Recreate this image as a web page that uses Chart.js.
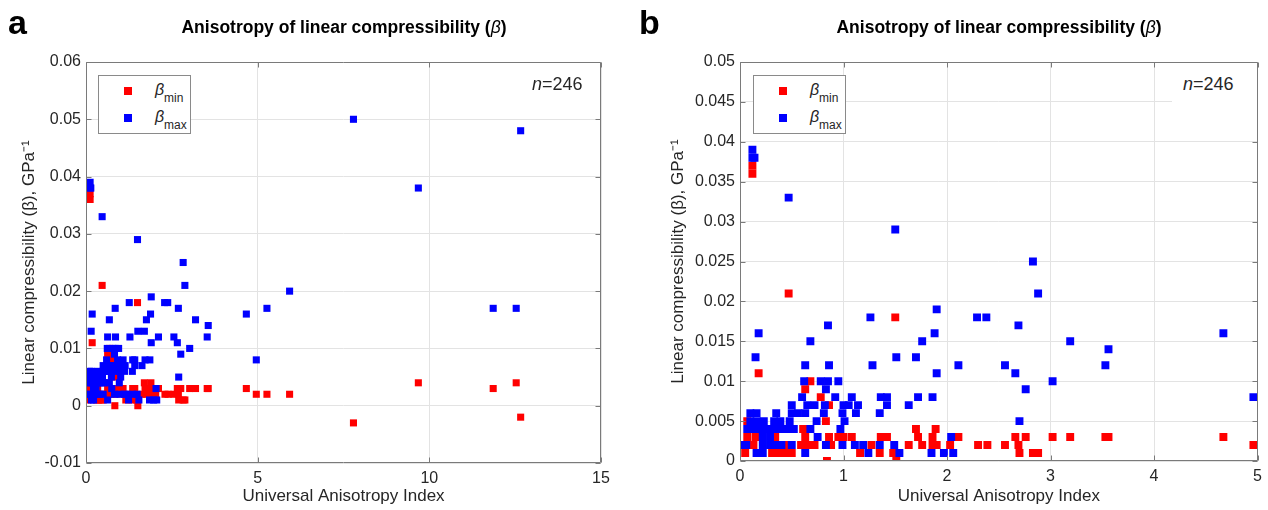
<!DOCTYPE html>
<html><head><meta charset="utf-8">
<script src="https://cdn.jsdelivr.net/npm/chart.js@4.4.0/dist/chart.umd.min.js"></script>
<style>
body{margin:0;background:#fff;}
#wrap{position:relative;width:1268px;height:510px;overflow:hidden;font-family:"Liberation Sans",Arial,Helvetica,sans-serif;color:#000;}
.pane{position:absolute;top:0;width:634px;height:510px;}
.letter{position:absolute;font-weight:bold;font-size:34px;line-height:1;}
.title{position:absolute;font-weight:bold;font-size:17.5px;line-height:1;white-space:nowrap;transform:translateX(-50%);}
.title i{font-weight:normal;}
.legend{position:absolute;width:91px;height:57px;border:1px solid #8a8a8a;background:#fff;}
.mk{position:absolute;width:8px;height:8px;}
.beta{position:absolute;font-size:16px;font-style:italic;line-height:1;color:#262626;}
.sub{position:absolute;font-size:12px;line-height:1;color:#262626;}
.nlab{position:absolute;font-size:18px;line-height:1;color:#262626;white-space:nowrap;}
.bg{position:absolute;background:#fff;}
</style>
</head><body>
<div id="wrap">
  <div class="pane" style="left:0"><canvas id="chartA"></canvas></div>
  <div class="pane" style="left:634px"><canvas id="chartB"></canvas></div>

  <div class="letter" style="left:8px;top:5px">a</div>
  <div class="letter" style="left:639px;top:5px">b</div>
  <div class="title" style="left:344px;top:19px">Anisotropy of linear compressibility (<i>β</i>)</div>
  <div class="title" style="left:999px;top:19px">Anisotropy of linear compressibility (<i>β</i>)</div>

  <div class="legend" style="left:98px;top:75px"></div>
  <div class="mk" style="left:124px;top:87px;background:#ff0000"></div>
  <div class="mk" style="left:124px;top:114px;background:#0000ff"></div>
  <span class="beta" style="left:155px;top:82px">β</span><span class="sub" style="left:164px;top:92px">min</span>
  <span class="beta" style="left:155px;top:109px">β</span><span class="sub" style="left:164px;top:119px">max</span>
  <div class="nlab" style="left:532px;top:75px"><i>n</i>=246</div>

  <div class="legend" style="left:753px;top:75px"></div>
  <div class="mk" style="left:779px;top:87px;background:#ff0000"></div>
  <div class="mk" style="left:779px;top:114px;background:#0000ff"></div>
  <span class="beta" style="left:810px;top:82px">β</span><span class="sub" style="left:819px;top:92px">min</span>
  <span class="beta" style="left:810px;top:109px">β</span><span class="sub" style="left:819px;top:119px">max</span>
  <div class="bg" style="left:1172px;top:68px;width:85px;height:36px"></div>
  <div class="nlab" style="left:1183px;top:75px"><i>n</i>=246</div>
</div>
<script>
// ---- data (Universal Anisotropy Index, linear compressibility in GPa^-1) ----
const maxX = [
  0.12, 0.12, 0.14, 0.47, 1.50, 2.83, 2.88, 5.93, 1.90, 1.26, 2.29, 2.38,
  0.85, 2.69, 5.27, 11.86, 12.53, 0.18, 1.88, 4.67, 0.68, 1.76, 3.19, 3.56,
  0.15, 1.51, 1.70, 0.63, 0.86, 1.28, 2.11, 2.56, 3.53, 1.90, 2.66,
  0.62, 0.78, 0.85, 0.95, 3.02, 0.83, 2.76,
  0.60, 0.92, 1.08, 1.36, 1.42, 1.72, 1.86, 4.96,
  0.50, 0.65, 0.72, 0.82, 1.00, 1.05, 1.14, 1.42, 1.63,
  0.10, 0.16, 0.35, 0.50, 0.56, 0.63, 0.81, 0.99, 1.12, 1.35,
  0.10, 0.16, 0.23, 0.33, 0.39, 0.48, 0.74, 1.01, 2.70,
  0.07, 0.14, 0.20, 0.27, 0.33, 0.40, 0.46, 0.52, 0.68, 0.97,
  0.22, 0.29, 0.75, 2.04,
  0.00, 0.06, 0.22, 0.29, 0.35, 0.40, 0.50, 0.83, 0.99, 1.11, 1.19, 1.35, 1.49,
  0.16, 0.22, 0.63, 1.24, 1.54, 1.85, 1.97, 2.06,
  7.79, 9.68, 12.66
];
const maxY = [
  0.039, 0.038, 0.038, 0.033, 0.029, 0.025, 0.021, 0.020, 0.019, 0.018, 0.018, 0.018,
  0.017, 0.017, 0.017, 0.017, 0.017, 0.016, 0.016, 0.016, 0.015, 0.015, 0.015, 0.014,
  0.013, 0.013, 0.013, 0.012, 0.012, 0.012, 0.012, 0.012, 0.012, 0.011, 0.011,
  0.010, 0.010, 0.010, 0.010, 0.010, 0.009, 0.009,
  0.008, 0.008, 0.008, 0.008, 0.008, 0.008, 0.008, 0.008,
  0.007, 0.007, 0.007, 0.007, 0.007, 0.007, 0.007, 0.007, 0.007,
  0.006, 0.006, 0.006, 0.006, 0.006, 0.006, 0.006, 0.006, 0.006, 0.006,
  0.005, 0.005, 0.005, 0.005, 0.005, 0.005, 0.005, 0.005, 0.005,
  0.004, 0.004, 0.004, 0.004, 0.004, 0.004, 0.004, 0.004, 0.004, 0.004,
  0.003, 0.003, 0.003, 0.003,
  0.002, 0.002, 0.002, 0.002, 0.002, 0.002, 0.002, 0.002, 0.002, 0.002, 0.002, 0.002, 0.002,
  0.001, 0.001, 0.001, 0.001, 0.001, 0.001, 0.001, 0.001,
  0.050, 0.038, 0.048
];
const minX = [
  0.12, 0.12, 0.47, 1.50, 0.18, 0.68, 0.63, 0.78, 0.86, 0.07, 0.83,
  0.61, 1.70, 1.89, 9.68, 12.53,
  0.07, 0.15, 0.34, 0.63, 0.86, 0.95, 1.00, 1.08, 1.36, 1.42, 1.72, 1.86, 2.11, 2.66, 2.76, 3.02, 3.19, 3.53, 3.56, 4.67, 11.86,
  0.13, 0.43, 0.59, 0.66, 0.72, 0.88, 1.27, 1.63, 1.76, 1.86, 1.90, 2.03, 2.30, 2.39, 2.56, 2.69, 4.96, 5.27, 5.93,
  0.05, 0.31, 0.37, 0.43, 0.50, 1.16, 1.35, 1.48, 2.70, 2.83, 2.88,
  0.84, 1.51, 12.66, 7.79
];
const minY = [
  0.037, 0.036, 0.021, 0.018, 0.011, 0.010, 0.009, 0.008, 0.007, 0.005, 0.005,
  0.004, 0.004, 0.004, 0.004, 0.004,
  0.003, 0.003, 0.003, 0.003, 0.003, 0.003, 0.003, 0.003, 0.003, 0.003, 0.003, 0.003, 0.003, 0.003, 0.003, 0.003, 0.003, 0.003, 0.003, 0.003, 0.003,
  0.002, 0.002, 0.002, 0.002, 0.002, 0.002, 0.002, 0.002, 0.002, 0.002, 0.002, 0.002, 0.002, 0.002, 0.002, 0.002, 0.002, 0.002, 0.002,
  0.001, 0.001, 0.001, 0.001, 0.001, 0.001, 0.001, 0.001, 0.001, 0.001, 0.001,
  0.000, 0.000, -0.002, -0.003
];
const xTicksA = [0, 5, 10, 15];
const yTicksA = [-0.01, 0, 0.01, 0.02, 0.03, 0.04, 0.05, 0.06];
const xTicksB = [0, 1, 2, 3, 4, 5];
const yTicksB = [0, 0.005, 0.01, 0.015, 0.02, 0.025, 0.03, 0.035, 0.04, 0.045, 0.05];
const xTitle = 'Universal Anisotropy Index';
const yTitle = 'Linear compressibility (β), GPa⁻¹';

// ---- drawing ----
const FF = '"Liberation Sans", Arial, Helvetica, sans-serif';
const pts = (xs, ys) => xs.map((x, i) => ({ x: x, y: ys[i] }));

const boxPlugin = {
  id: 'matlabBox',
  afterDraw(chart) {
    const { ctx, chartArea: a } = chart;
    const xs = chart.scales.x, ys = chart.scales.y;
    const L = Math.round(a.left) + 0.5, R = Math.round(a.right) - 0.5;
    const T = Math.round(a.top) + 0.5, B = Math.round(a.bottom) - 0.5;
    const tl = 5;
    ctx.save();
    ctx.strokeStyle = '#7a7a7a';
    ctx.lineWidth = 1;
    ctx.beginPath();
    ctx.rect(L, T, R - L, B - T);
    xs.ticks.forEach(t => {
      const p = Math.round(xs.getPixelForValue(t.value)) + 0.5;
      ctx.moveTo(p, B); ctx.lineTo(p, B - tl);
      ctx.moveTo(p, T); ctx.lineTo(p, T + tl);
    });
    ys.ticks.forEach(t => {
      const p = Math.round(ys.getPixelForValue(t.value)) + 0.5;
      ctx.moveTo(L, p); ctx.lineTo(L + tl, p);
      ctx.moveTo(R, p); ctx.lineTo(R - tl, p);
    });
    ctx.stroke();
    ctx.restore();
  }
};

function build(id, o) {
  const ds = (label, xs, ys, color, order) => ({
    label: label, data: pts(xs, ys), order: order,
    backgroundColor: color, borderColor: color, borderWidth: 0,
    pointStyle: 'rect', pointRadius: o.r, pointHoverRadius: o.r, showLine: false
  });
  return new Chart(document.getElementById(id), {
    type: 'scatter',
    data: { datasets: [
      ds('βmax', maxX, maxY, '#0000ff', 1),
      ds('βmin', minX, minY, '#ff0000', 2)
    ] },
    options: {
      responsive: true, maintainAspectRatio: false, animation: false, events: [],
      layout: { padding: { left: 0, right: o.padRight, top: 62, bottom: 0 } },
      plugins: { legend: { display: false }, tooltip: { enabled: false }, title: { display: false } },
      scales: {
        x: {
          type: 'linear', position: 'bottom', min: o.xTicks[0], max: o.xTicks[o.xTicks.length - 1],
          afterBuildTicks: s => { s.ticks = o.xTicks.map(v => ({ value: v })); },
          afterFit: s => { s.height = o.xH; },
          ticks: { callback: v => String(v), font: { size: 16, family: FF }, color: '#262626', padding: 6, maxRotation: 0, autoSkip: false },
          grid: { color: '#e3e3e3', drawTicks: false },
          border: { display: false },
          title: { display: true, text: xTitle, font: { size: 17, family: FF }, color: '#262626', padding: { top: 0, bottom: 3 } }
        },
        y: {
          type: 'linear', position: 'left', min: o.yTicks[0], max: o.yTicks[o.yTicks.length - 1],
          afterBuildTicks: s => { s.ticks = o.yTicks.map(v => ({ value: v })); },
          afterFit: s => { s.width = o.yW; },
          ticks: { callback: v => String(v), font: { size: 16, family: FF }, color: '#262626', padding: 5, autoSkip: false },
          grid: { color: '#e3e3e3', drawTicks: false },
          border: { display: false },
          title: { display: true, text: yTitle, font: { size: 17, family: FF }, color: '#262626', padding: { top: o.yTitlePad, bottom: 0 } }
        }
      }
    },
    plugins: [boxPlugin]
  });
}

build('chartA', { xTicks: xTicksA, yTicks: yTicksA, r: 5, padRight: 33, xH: 47, yW: 86, yTitlePad: 19 });
build('chartB', { xTicks: xTicksB, yTicks: yTicksB, r: 5.6, padRight: 9, xH: 49, yW: 106, yTitlePad: 34 });
</script>
</body></html>
